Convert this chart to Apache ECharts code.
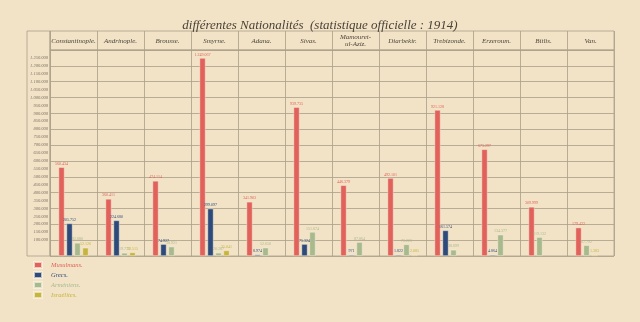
<!DOCTYPE html>
<html><head><meta charset="utf-8">
<script src="https://cdn.jsdelivr.net/npm/echarts@6/dist/echarts.min.js"></script>
<style>html,body{margin:0;padding:0;background:#f2e3c7}#c{width:640px;height:322px}</style>
</head><body><div id="c"></div>
<script>
// ---- data ----
const categories = ['Constantinople.', 'Andrinople.', 'Brousse.', 'Smyrne.', 'Adana.', 'Sivas.',
  'Mamouret-\nul-Aziz.', 'Diarbekir.', 'Trebizonde.', 'Erzeroum.', 'Bitlis.', 'Van.'];
const musulmans  = [560434, 360411, 474114, 1249067, 341903, 939735, 446379, 492101, 921128, 673297, 309999, 179422];
const grecs      = [205752, 224680, 74927, 299097, 8974, 75324, 971, 1822, 161574, 4864, null, null];
const armeniens  = [82880, 19773, 58921, 20287, 52650, 151674, 87864, 73226, 38899, 134377, 119132, 67792];
const israelites = [52126, 22515, null, 35041, null, null, null, 2085, null, null, null, 1383];
const nationNames = ['Musulmans.', 'Grecs.', 'Arméniens.', 'Israélites.'];
const yMax = 1300000;
const gridStep = 100000;
const labelStep = 50000;
const labelMin = 100000, labelMax = 1250000;

// ---- style ----
const colors = ['#e0625a', '#2d4a7a', '#a8b98c', '#c7b43f'];
const lineC = '#a99e88';
const font = 'Liberation Serif';
const fmt = v => String(v).replace(/\B(?=(\d{3})+(?!\d))/g, '.');

// bars are drawn side by side; absent nationalities leave no gap (as in the original)
const nations = [musulmans, grecs, armeniens, israelites].map((d, k) => ({ data: d, color: colors[k] }));
const slots = [[], [], [], []];
categories.forEach((c, i) => {
  const present = nations.filter(n => n.data[i] != null);
  for (let s = 0; s < 4; s++) {
    const n = present[s];
    slots[s].push(n ? { value: n.data[i], itemStyle: { color: n.color }, label: { color: n.color } } : '-');
  }
});

const chart = echarts.init(document.getElementById('c'), null, { renderer: 'canvas' });
chart.setOption({
  backgroundColor: '#f2e3c7',
  animation: false,
  title: {
    text: 'différentes Nationalités  (statistique officielle : 1914)',
    left: 'center', top: 14,
    textStyle: { fontFamily: font, fontStyle: 'italic', fontWeight: 'normal', fontSize: 13, color: '#4a4238' }
  },
  legend: {
    orient: 'vertical', left: 33, top: 261, padding: 0, itemWidth: 8, itemHeight: 6, itemGap: 2,
    icon: 'rect', selectedMode: false,
    data: nationNames.map((n, k) => ({ name: n, textStyle: { color: colors[k] } })),
    textStyle: { fontFamily: font, fontStyle: 'italic', fontSize: 6.5, lineHeight: 7, padding: [0, 0, 0, 4] }
  },
  grid: [
    { left: 50, right: 26, top: 50, bottom: 66, show: true, borderColor: lineC, borderWidth: 0.8 },
    { left: 50, right: 26, top: 31, height: 19, show: true, borderColor: lineC, borderWidth: 0.8 },
    { left: 27, width: 23, top: 31, bottom: 66, show: true, borderColor: lineC, borderWidth: 0.8 }
  ],
  xAxis: [
    { gridIndex: 0, type: 'category', data: categories,
      axisLabel: { show: false }, axisTick: { show: false }, axisLine: { show: false },
      splitLine: { show: true, interval: 0, lineStyle: { color: lineC, width: 0.8 } } },
    { gridIndex: 1, type: 'category', data: categories, position: 'top',
      axisTick: { show: false }, axisLine: { show: false },
      splitLine: { show: true, interval: 0, lineStyle: { color: lineC, width: 0.8 } },
      axisLabel: { inside: true, margin: 10, verticalAlign: 'middle', interval: 0, lineHeight: 7,
        fontFamily: font, fontStyle: 'italic', fontSize: 7, color: '#4d463c' } },
    { gridIndex: 2, type: 'value', show: false }
  ],
  yAxis: [
    { gridIndex: 0, type: 'value', min: 0, max: yMax, interval: gridStep,
      axisLabel: { show: false }, axisTick: { show: false }, axisLine: { show: false },
      splitLine: { show: true, lineStyle: { color: lineC, width: 0.8 } } },
    { gridIndex: 0, type: 'value', min: 0, max: yMax, interval: labelStep, position: 'left',
      axisTick: { show: false }, axisLine: { show: false }, splitLine: { show: false },
      axisLabel: { margin: 2, fontFamily: font, fontStyle: 'italic', fontSize: 4.5, color: '#7d7262',
        formatter: v => (v >= labelMin && v <= labelMax) ? fmt(v) : '' } },
    { gridIndex: 1, type: 'value', show: false },
    { gridIndex: 2, type: 'value', show: false }
  ],
  series: slots.map((d, s) => ({
    name: nationNames[s], type: 'bar', xAxisIndex: 0, yAxisIndex: 0,
    data: d, barWidth: 6, barGap: '33%', barMinHeight: 1.2,
    itemStyle: { color: colors[s], borderColor: 'rgba(250,244,230,0.7)', borderWidth: 0.6 },
    label: { show: true, position: 'top', distance: 1.5, fontSize: 4, fontFamily: font,
      formatter: p => fmt(p.value) }
  }))
});
</script></body></html>
